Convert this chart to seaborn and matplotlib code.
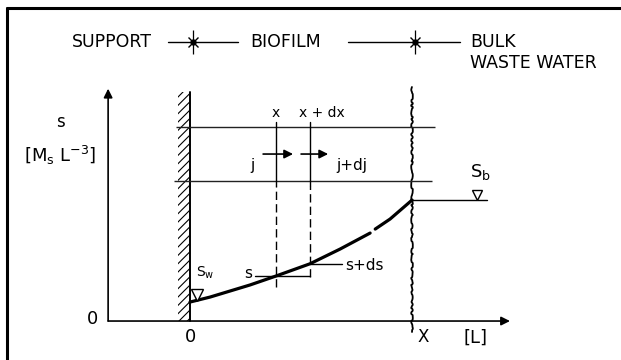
import numpy as np
import pandas as pd
import seaborn as sns
import matplotlib.pyplot as plt
from matplotlib.lines import Line2D

# substrate profile across the biofilm (x / X, s / s_b); the drawn curve is broken near x = 0.82
profile_x = [0.0, 0.09, 0.18, 0.27, 0.387, 0.54, 0.676, 0.811, 0.834, 0.901, 1.0]
profile_s = [0.157, 0.198, 0.248, 0.298, 0.372, 0.473, 0.595, 0.727, 0.760, 0.843, 1.0]
profile_piece = [0, 0, 0, 0, 0, 0, 0, 0, 1, 1, 1]

slice_x = [0.387, 0.54]        # x, x + dx
slice_s = [0.372, 0.473]       # s, s + ds
flux_levels = [1.157, 1.603]   # lines bounding the flux j / j + dj
flux_y = 1.38
s_w = 0.157
s_b = 1.0
thickness = 1.0                # X

sns.set_theme(style='white')
plt.rcParams['font.family'] = ['DejaVu Sans']
plt.rcParams['text.color'] = 'black'
plt.rcParams['hatch.linewidth'] = 0.8
plt.rcParams['mathtext.default'] = 'regular'

fig = plt.figure(figsize=(6.21, 3.6), dpi=100)
ax = fig.add_axes([0, 0, 1, 1])
ax.set_xlim(-0.856, 1.941)
ax.set_ylim(-0.322, 2.653)
ax.axis('off')

k = 'black'
arrow = dict(arrowstyle='-|>', color=k, lw=1.2, mutation_scale=13, shrinkA=0, shrinkB=0)

# frame (top and left edge only)
fig.add_artist(Line2D([7 / 621, 1], [1 - 8 / 360, 1 - 8 / 360], transform=fig.transFigure, color=k, lw=2.2))
fig.add_artist(Line2D([7 / 621, 7 / 621], [0, 1 - 8 / 360], transform=fig.transFigure, color=k, lw=2.2))

# axes of the diagram
y_axis = -0.369
ax.annotate('', xy=(y_axis, 1.92), xytext=(y_axis, 0), arrowprops=arrow)
ax.annotate('', xy=(1.441, 0), xytext=(y_axis, 0), arrowprops=arrow)

# support wall with hatching
ax.fill_betweenx([0, 1.893], -0.054, 0, facecolor='none', edgecolor=k, hatch='////', lw=0)
ax.plot([0, 0], [0, 1.893], color=k, lw=1.4)

# biofilm / bulk interface (wavy)
surf, = ax.plot([thickness, thickness], [-0.091, 1.934], color=k, lw=1.3)
surf.set_sketch_params(scale=0.8, length=14, randomness=6)

# flux control lines
ax.hlines(flux_levels, [-0.072, -0.063], [1.09, 1.104], color='#222222', lw=1.0)

# slice lines at x and x + dx
for xs, lo in zip(slice_x, [slice_s[0] - 0.09, slice_s[0] - 0.008]):
    ax.plot([xs, xs], [1.12, 1.645], color=k, lw=1.0)
    ax.plot([xs, xs], [lo, 1.12], color=k, lw=1.0, ls=(0, (6, 3)))

# flux arrows
ax.annotate('', xy=(0.464, flux_y), xytext=(0.329, flux_y), arrowprops=arrow)
ax.annotate('', xy=(0.622, flux_y), xytext=(0.50, flux_y), arrowprops=arrow)

# concentration profile
df = pd.DataFrame({'x': profile_x, 's': profile_s, 'piece': profile_piece})
sns.lineplot(data=df, x='x', y='s', units='piece', estimator=None, sort=False,
             color=k, lw=2.3, ax=ax, legend=False)

# s and s + ds markers
ax.plot([0.293, slice_x[1]], [slice_s[0], slice_s[0]], color=k, lw=1.0)
ax.plot([slice_x[1], 0.685], [slice_s[1], slice_s[1]], color=k, lw=1.0)

# bulk level s_b and wall level s_w
ax.plot([thickness, 1.338], [s_b, s_b], color=k, lw=1.0)
ax.plot([1.293], [s_b + 0.04], marker='v', ms=7, mfc='white', mec=k, mew=1.0)
ax.plot([0.032], [s_w + 0.055], marker='v', ms=8, mfc='white', mec=k, mew=1.0)

# header
hy = 2.306
ax.plot([-0.099, 0.216], [hy, hy], color=k, lw=1.0)
ax.plot([0.712, 1.216], [hy, hy], color=k, lw=1.0)
for sx in [0.014, 1.014]:
    ax.plot([sx], [hy], marker='|', ms=17, mew=0.9, color=k)
    ax.plot([sx], [hy], marker='x', ms=7, mew=1.0, color=k)
    ax.plot([sx], [hy], marker='o', ms=3.5, color=k)
ax.text(-0.532, hy, 'SUPPORT', fontsize=12.5, va='center', ha='left')
ax.text(0.27, hy, 'BIOFILM', fontsize=12.5, va='center', ha='left')
ax.text(1.261, hy, 'BULK', fontsize=12.5, va='center', ha='left')
ax.text(1.261, 2.132, 'WASTE WATER', fontsize=12.5, va='center', ha='left')

# labels
ax.text(-0.586, 1.645, 's', fontsize=12, ha='center', va='center')
ax.text(-0.586, 1.372, r'[M$_{s}$ L$^{-3}$]', fontsize=13, ha='center', va='center')
ax.text(-0.441, 0.017, '0', fontsize=13, ha='center', va='center')
ax.text(0.0, -0.132, '0', fontsize=13, ha='center', va='center')
ax.text(1.05, -0.132, 'X', fontsize=12, ha='center', va='center')
ax.text(1.284, -0.14, '[L]', fontsize=13, ha='center', va='center')
ax.text(slice_x[0], 1.72, 'x', fontsize=10, ha='center', va='center')
ax.text(0.595, 1.72, 'x + dx', fontsize=10, ha='center', va='center')
ax.text(0.279, 1.289, 'j', fontsize=11, ha='center', va='center')
ax.text(0.658, 1.289, 'j+dj', fontsize=11, ha='left', va='center')
ax.text(0.28, slice_s[0] + 0.02, 's', fontsize=11, ha='right', va='center')
ax.text(0.698, slice_s[1] - 0.01, 's+ds', fontsize=11, ha='left', va='center')
ax.text(0.027, 0.397, r'S$_{w}$', fontsize=10, ha='left', va='center')
ax.text(1.262, 1.231, r'S$_{b}$', fontsize=13, ha='left', va='center')

fig.savefig('out.png', dpi=100, facecolor='white')
